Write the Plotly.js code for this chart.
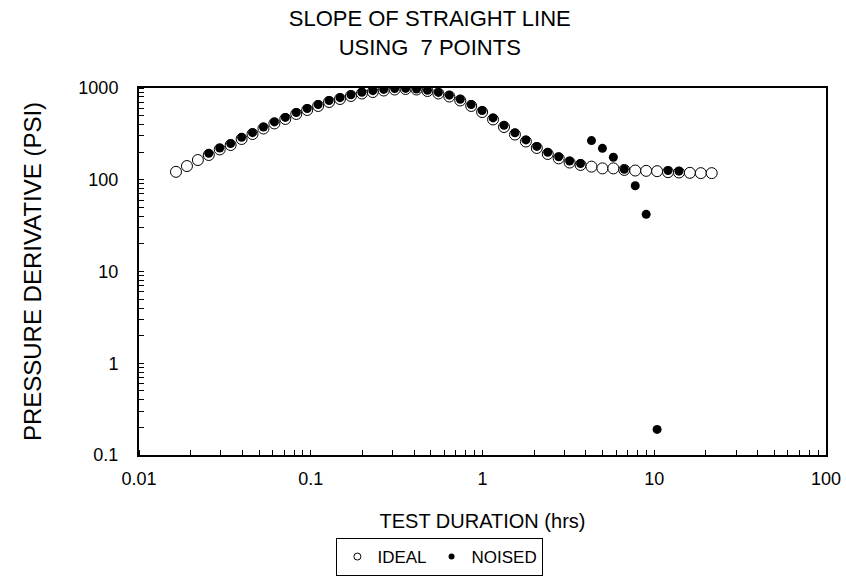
<!DOCTYPE html>
<html>
<head>
<meta charset="utf-8">
<script src="https://cdn.plot.ly/plotly-3.0.1.min.js"></script>
<style>html,body{margin:0;padding:0;background:#fff;}#chart{width:846px;height:579px;}</style>
</head>
<body>
<div id="chart"></div>
<script>
// Test duration (hrs) for every sample
const hours = [0.01642,0.01902,0.02202,0.02549,0.02951,0.03417,0.03958,0.04581,0.05305,0.06142,
  0.07112,0.08235,0.09535,0.1104,0.1278,0.1480,0.1714,0.1984,0.2298,0.2660,
  0.3080,0.3567,0.4129,0.4782,0.5536,0.6411,0.7423,0.8595,0.9952,1.152,
  1.334,1.545,1.789,2.071,2.398,2.777,3.215,3.723,4.311,4.991,
  5.780,6.692,7.748,8.972,10.39,12.03,13.93,16.12,18.67,21.61];

// Ideal pressure derivative (psi)
const ideal = [122,141,164,186,214,239,278,315,362,411,
  460,521,576,637,704,759,818,871,904,939,
  963,975,963,927,871,808,731,637,547,454,
  376,311,261,222,191,171,154,145,139,133,
  133,128,126,125,124,121,120,119,118,118];

// Noised pressure derivative (psi), samples 4..47
const noisedHours = hours.slice(3, 47);
const noised = [194,222,248,290,326,376,427,478,540,598,
  660,730,785,845,900,935,965,985,990,975,
  945,895,835,755,660,568,472,392,325,272,
  231,199,178,160,150,267,220,176,130,86,
  42,0.19,126,124];

const yTicks = [0.1, 1, 10, 100, 1000];
const yTickText = ['0.1', '1', '10', '100', '1000'];
const xTicks = [0.01, 0.1, 1, 10, 100];
const xTickText = ['0.01', '0.1', '1', '10', '100'];

const font = 'Liberation Sans, Arial, sans-serif';

const traces = [
  {x: hours, y: ideal, name: 'IDEAL', type: 'scatter', mode: 'markers', showlegend: false,
   marker: {symbol: 'circle', size: 11, color: '#ffffff', line: {color: '#000000', width: 1}}},
  {x: noisedHours, y: noised, name: 'NOISED', type: 'scatter', mode: 'markers', showlegend: false,
   marker: {symbol: 'circle', size: 9, color: '#000000', line: {color: '#000000', width: 0}}},
  // legend entries (small glyphs as in the reference)
  {x: [null], y: [null], name: 'IDEAL', type: 'scatter', mode: 'markers',
   marker: {symbol: 'circle', size: 7, color: '#ffffff', line: {color: '#000000', width: 1}}},
  {x: [null], y: [null], name: 'NOISED', type: 'scatter', mode: 'markers',
   marker: {symbol: 'circle', size: 6, color: '#000000', line: {width: 0}}}
];

const layout = {
  width: 846, height: 579,
  margin: {l: 139, r: 20, t: 88, b: 124},
  paper_bgcolor: '#ffffff', plot_bgcolor: '#ffffff',
  font: {family: font, color: '#000000', size: 18},
  title: {text: 'SLOPE OF STRAIGHT LINE<br>USING  7 POINTS', x: 0.508, xref: 'container',
          y: 0.955, yref: 'container', yanchor: 'middle',
          font: {family: font, size: 22, color: '#000000'}},
  xaxis: {type: 'log', range: [-2, 2], tickvals: xTicks, ticktext: xTickText,
          showgrid: false, zeroline: false, showline: true, mirror: true,
          linecolor: '#000000', linewidth: 2, ticks: '', ticklabelstandoff: 6,
          minor: {ticks: 'inside', ticklen: 5, dtick: 'D1', tickcolor: '#000000', showgrid: false},
          tickfont: {size: 18},
          title: {text: 'TEST DURATION (hrs)', font: {size: 20}, standoff: 26}},
  yaxis: {type: 'log', range: [-1, 3], tickvals: yTicks, ticktext: yTickText,
          showgrid: false, zeroline: false, showline: true, mirror: true,
          linecolor: '#000000', linewidth: 2, ticks: '', ticklabelstandoff: 15,
          minor: {ticks: 'inside', ticklen: 5, dtick: 'D1', tickcolor: '#000000', showgrid: false},
          tickfont: {size: 18},
          title: {text: 'PRESSURE DERIVATIVE (PSI)', font: {size: 24}, standoff: 30}},
  showlegend: true,
  legend: {orientation: 'h', xref: 'container', yref: 'container', x: 0.52, xanchor: 'center',
           y: 0.038, yanchor: 'middle', bordercolor: '#000000', borderwidth: 1,
           bgcolor: '#ffffff', font: {size: 17}, itemwidth: 30, tracegroupgap: 0}
};

Plotly.newPlot('chart', traces, layout, {displayModeBar: false, staticPlot: true});
</script>
</body>
</html>
